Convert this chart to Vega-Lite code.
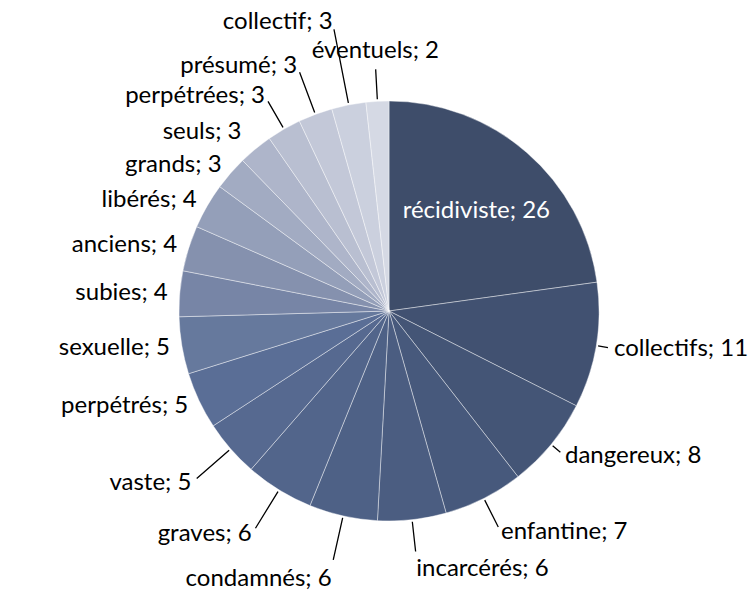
{
  "$schema": "https://vega.github.io/schema/vega-lite/v6.json",
  "width": 726,
  "height": 562,
  "autosize": "none",
  "padding": {"left": 26, "top": 30, "right": 0, "bottom": 0},
  "background": "#ffffff",
  "config": {"view": {"stroke": null}, "text": {"font": "Lato"}},
  "data": {
    "values": [
      {"i": 1, "k": "récidiviste", "v": 26},
      {"i": 2, "k": "collectifs", "v": 11},
      {"i": 3, "k": "dangereux", "v": 8},
      {"i": 4, "k": "enfantine", "v": 7},
      {"i": 5, "k": "incarcérés", "v": 6},
      {"i": 6, "k": "condamnés", "v": 6},
      {"i": 7, "k": "graves", "v": 6},
      {"i": 8, "k": "vaste", "v": 5},
      {"i": 9, "k": "perpétrés", "v": 5},
      {"i": 10, "k": "sexuelle", "v": 5},
      {"i": 11, "k": "subies", "v": 4},
      {"i": 12, "k": "anciens", "v": 4},
      {"i": 13, "k": "libérés", "v": 4},
      {"i": 14, "k": "grands", "v": 3},
      {"i": 15, "k": "seuls", "v": 3},
      {"i": 16, "k": "perpétrées", "v": 3},
      {"i": 17, "k": "présumé", "v": 3},
      {"i": 18, "k": "collectif", "v": 3},
      {"i": 19, "k": "éventuels", "v": 2}
    ]
  },
  "transform": [
    {"window": [{"op": "sum", "field": "v", "as": "cum"}], "sort": [{"field": "i", "order": "ascending"}], "frame": [null, 0]},
    {"calculate": "datum.cum - datum.v / 2", "as": "mid"},
    {"calculate": "datum.k + '; ' + datum.v", "as": "lab"}
  ],
  "layer": [
    {
      "mark": {"type": "arc", "radius": 210, "stroke": "#ffffff", "strokeWidth": 0.6, "strokeOpacity": 0.7},
      "encoding": {
        "theta": {"field": "v", "type": "quantitative", "stack": true},
        "order": {"field": "i", "type": "quantitative", "sort": "ascending"},
        "color": {
          "field": "k",
          "type": "nominal",
          "legend": null,
          "scale": {
            "domain": ["récidiviste", "collectifs", "dangereux", "enfantine", "incarcérés", "condamnés", "graves", "vaste", "perpétrés", "sexuelle", "subies", "anciens", "libérés", "grands", "seuls", "perpétrées", "présumé", "collectif", "éventuels"],
            "range": ["#3e4d6a", "#415171", "#445576", "#47597c", "#4b5d81", "#4e6186", "#52658b", "#566990", "#5a6e96", "#66799d", "#7785a6", "#8591ae", "#949fb9", "#a2abc2", "#aeb5ca", "#b9bfd1", "#c3c8d8", "#cbd0de", "#d5d9e4"]
          }
        }
      }
    },
    {
      "transform": [{"filter": {"not": {"field": "k", "oneOf": ["récidiviste", "grands", "seuls", "libérés", "anciens", "subies", "sexuelle", "perpétrés"]}}}],
      "mark": {
        "type": "arc",
        "filled": false,
        "stroke": "#000000",
        "strokeWidth": 1.3,
        "radius2": 212,
        "radius": {"expr": "indexof(['collectifs','dangereux'], datum.k) >= 0 ? 222 : indexof(['enfantine','perpétrées','incarcérés','éventuels'], datum.k) >= 0 ? 242 : indexof(['condamnés','graves','vaste','présumé'], datum.k) >= 0 ? 255 : datum.k === 'collectif' ? 287 : 215"}
      },
      "encoding": {
        "theta": {"field": "mid", "type": "quantitative", "stack": null},
        "theta2": {"field": "mid"}
      }
    },
    {
      "transform": [{"filter": {"field": "k", "equal": "récidiviste"}}],
      "mark": {"type": "text", "radius": 133, "fill": "#ffffff", "fontSize": 24, "align": "center", "baseline": "middle"},
      "encoding": {
        "theta": {"field": "mid", "type": "quantitative", "stack": null},
        "text": {"field": "lab"}
      }
    },
    {
      "transform": [{"filter": {"not": {"field": "k", "equal": "récidiviste"}}}],
      "mark": {
        "type": "text",
        "fill": "#000000",
        "fontSize": 24,
        "radius": {"expr": "indexof(['collectifs','dangereux'], datum.k) >= 0 ? 228 : datum.k === 'seuls' ? 232 : indexof(['enfantine','perpétrées','incarcérés','éventuels'], datum.k) >= 0 ? 248 : indexof(['condamnés','graves','vaste','présumé'], datum.k) >= 0 ? 262 : datum.k === 'collectif' ? 294 : 222"},
        "align": {"expr": "datum.mid > 111.5 ? 'center' : datum.mid < 57 ? 'left' : 'right'"},
        "baseline": {"expr": "datum.mid > 111.5 ? 'bottom' : abs(datum.mid - 58) < 5 ? 'top' : 'middle'"}
      },
      "encoding": {
        "theta": {"field": "mid", "type": "quantitative", "stack": null},
        "text": {"field": "lab"}
      }
    }
  ]
}
